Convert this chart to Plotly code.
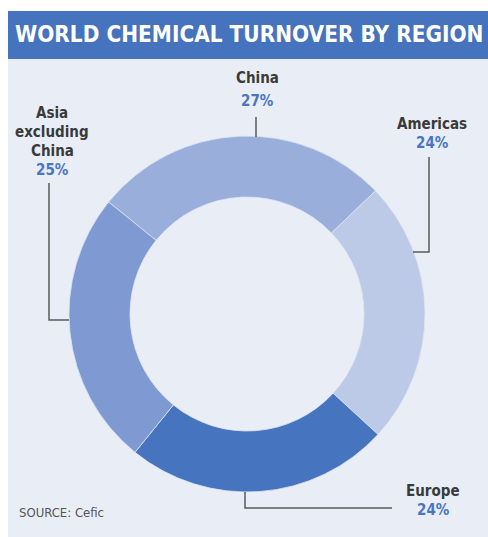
import plotly.graph_objects as go

# ---- data ----
regions = ["China", "Americas", "Europe", "Asia excluding China"]
shares = [27, 24, 24, 25]
slice_colors = ["#9aaedb", "#bccae8", "#4674be", "#7f9ad2"]
title_text = "WORLD CHEMICAL TURNOVER BY REGION"
source_text = "SOURCE: Cefic"

W, H = 488, 537
BG = "#e9eef6"
BAR = "#4673bd"
LABEL_FONT = "DejaVu Sans Condensed, Liberation Sans Narrow, Arial Narrow, Liberation Sans, Arial"

def px(x):
    return x / W

def py(y):
    return 1 - y / H

# donut geometry (pixels)
cx, cy, R = 247, 314, 178

fig = go.Figure()
fig.add_trace(go.Pie(
    labels=regions,
    values=shares,
    sort=False,
    direction="clockwise",
    rotation=-51,
    hole=117 / 178,
    marker=dict(colors=slice_colors, line=dict(color="#dde5f2", width=0.8)),
    textinfo="none",
    hoverinfo="label+percent",
    showlegend=False,
    domain=dict(x=[px(cx - R), px(cx + R)], y=[py(cy + R), py(cy - R)]),
))

shapes = [
    # light panel background
    dict(type="rect", xref="paper", yref="paper", x0=px(8), x1=px(488), y0=py(537), y1=py(58),
         fillcolor=BG, line=dict(width=0), layer="below"),
    # title bar
    dict(type="rect", xref="paper", yref="paper", x0=px(8), x1=px(488), y0=py(59), y1=py(11),
         fillcolor=BAR, line=dict(width=0), layer="below"),
]

# label layout: (text center x, name-line y's, percent y, leader path points)
label_layout = {
    "China": dict(x=257, name_y=[78], pct_y=101, path=[(256, 117), (256, 137)]),
    "Americas": dict(x=432, name_y=[124], pct_y=143, path=[(429, 157), (429, 252), (413, 252)]),
    "Europe": dict(x=433, name_y=[491], pct_y=510, path=[(245, 492), (245, 508), (392, 508)]),
    "Asia excluding China": dict(x=52, name_y=[113, 132, 151], pct_y=170, path=[(49, 183), (49, 320), (69, 320)]),
}
name_lines = {"Asia excluding China": ["Asia", "excluding", "China"]}

annotations = []
for name, val in zip(regions, shares):
    lay = label_layout[name]
    lines = name_lines.get(name, [name])
    for ln, yy in zip(lines, lay["name_y"]):
        annotations.append(dict(x=px(lay["x"]), y=py(yy), xref="paper", yref="paper",
                                text=f"<b>{ln}</b>", showarrow=False, xanchor="center", yanchor="middle",
                                font=dict(family=LABEL_FONT, size=15, color="#3a3a3a")))
    annotations.append(dict(x=px(lay["x"]), y=py(lay["pct_y"]), xref="paper", yref="paper",
                            text=f"<b>{val}%</b>", showarrow=False, xanchor="center", yanchor="middle",
                            font=dict(family=LABEL_FONT, size=15, color="#4a74c4")))
    pts = lay["path"]
    d = "M " + " L ".join(f"{px(x)},{py(y)}" for x, y in pts)
    shapes.append(dict(type="path", xref="paper", yref="paper", path=d,
                       line=dict(color="#5a5a5a", width=1.5)))

annotations.append(dict(x=px(249), y=py(34), xref="paper", yref="paper",
                        text=f"<b>{title_text}</b>", showarrow=False, xanchor="center", yanchor="middle",
                        font=dict(family=LABEL_FONT, size=22.4, color="white")))
annotations.append(dict(x=px(17), y=py(512), xref="paper", yref="paper",
                        text=source_text, showarrow=False, xanchor="left", yanchor="middle",
                        font=dict(family=LABEL_FONT, size=13, color="#555555")))

fig.update_layout(
    width=W, height=H,
    margin=dict(l=0, r=0, t=0, b=0),
    paper_bgcolor="white",
    plot_bgcolor="white",
    shapes=shapes,
    annotations=annotations,
)

fig.write_html("out.html", config={"displayModeBar": False})
